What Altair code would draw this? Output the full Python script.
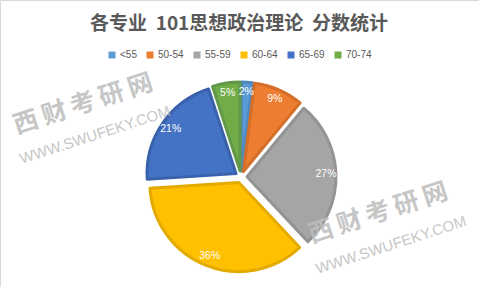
import math
import altair as alt
import pandas as pd

# ---- data ----
categories = ["<55", "50-54", "55-59", "60-64", "65-69", "70-74"]
shares = [2, 9, 27, 36, 21, 5]
pct_labels = ["2%", "9%", "27%", "36%", "21%", "5%"]
fills = ["#5B9BD5", "#ED7D31", "#A5A5A5", "#FFC000", "#4472C4", "#70AD47"]
borders = ["#4E89C0", "#D46F29", "#939393", "#E3AA00", "#3A62AC", "#62984A"]
title_text = "各专业\u00a0\u00a0101思想政治理论\u00a0\u00a0分数统计"
wm_cn = "西\u2009财\u2009考\u2009研\u2009网"
wm_en = "WWW.SWUFEKY.COM"

df = pd.DataFrame({"cat": categories, "share": shares, "label": pct_labels,
                   "order": list(range(len(categories)))})

CX, CY, OFF = 241, 177, 6
xs = alt.Scale(domain=[-1, 1], range=[CX - OFF, CX + OFF])
ys = alt.Scale(domain=[-1, 1], range=[CY - OFF, CY + OFF])
ts = alt.Scale(domain=[0, 100], range=[0, 2 * math.pi])

base = alt.Chart(df).transform_window(
    cum="sum(share)", sort=[alt.SortField("order")], frame=[None, 0]
).transform_calculate(
    t0="datum.cum - datum.share",
    t1="datum.cum",
    mid="datum.cum - datum.share / 2",
).transform_calculate(
    dx="sin(datum.mid / 100 * 2 * PI)",
    dy="-cos(datum.mid / 100 * 2 * PI)",
)

arcs = base.mark_arc(radius=89, strokeWidth=3, strokeJoin="round").encode(
    x=alt.X("dx:Q", scale=xs, axis=None),
    y=alt.Y("dy:Q", scale=ys, axis=None),
    theta=alt.Theta("t0:Q", scale=ts, stack=False),
    theta2="t1:Q",
    color=alt.Color(
        "cat:N",
        scale=alt.Scale(domain=categories, range=fills),
        sort=categories,
        legend=alt.Legend(
            title=None, orient="none", legendX=107, legendY=50,
            direction="horizontal", columns=6, symbolType="square",
            symbolSize=49, symbolStrokeWidth=0, labelFontSize=10,
            labelFont="Liberation Sans", labelColor="#595959",
            columnPadding=8, labelOffset=3,
        ),
    ),
    stroke=alt.Stroke("cat:N", scale=alt.Scale(domain=categories, range=borders), legend=None),
)

pct = base.mark_text(radius=79, color="white", fontSize=10.5,
                     font="Liberation Sans", align="center", baseline="middle").encode(
    x=alt.X("dx:Q", scale=xs, axis=None),
    y=alt.Y("dy:Q", scale=ys, axis=None),
    theta=alt.Theta("mid:Q", scale=ts, stack=False),
    text="label:N",
)

title = alt.Chart(pd.DataFrame({"t": [title_text]})).mark_text(
    font="Noto Sans CJK SC", fontSize=19, fontWeight="bold", color="#595959",
    align="center", baseline="middle",
).encode(text="t:N", x=alt.value(239), y=alt.value(24))


def wm(txt, x, y, size, font, weight):
    return alt.Chart(pd.DataFrame({"t": [txt]})).mark_text(
        font=font, fontSize=size, fontWeight=weight, color="#BDBDBD", opacity=0.85,
        angle=342, align="center", baseline="middle",
    ).encode(text="t:N", x=alt.value(x), y=alt.value(y))


marks = [
    wm(wm_cn, 83, 104, 25, "Noto Sans CJK SC", "bold"),
    wm(wm_en, 95, 135, 15, "Liberation Sans", "normal"),
    wm(wm_cn, 378, 213, 25, "Noto Sans CJK SC", "bold"),
    wm(wm_en, 391, 245, 15, "Liberation Sans", "normal"),
]

chart = alt.layer(arcs, pct, title, *marks).properties(
    width=479, height=287, autosize=alt.AutoSizeParams(type="none"), padding=0,
    background="white",
).configure_view(stroke="#D9D9D9", strokeWidth=1)

chart.save("out.html", embed_options={"renderer": "svg", "actions": False})
